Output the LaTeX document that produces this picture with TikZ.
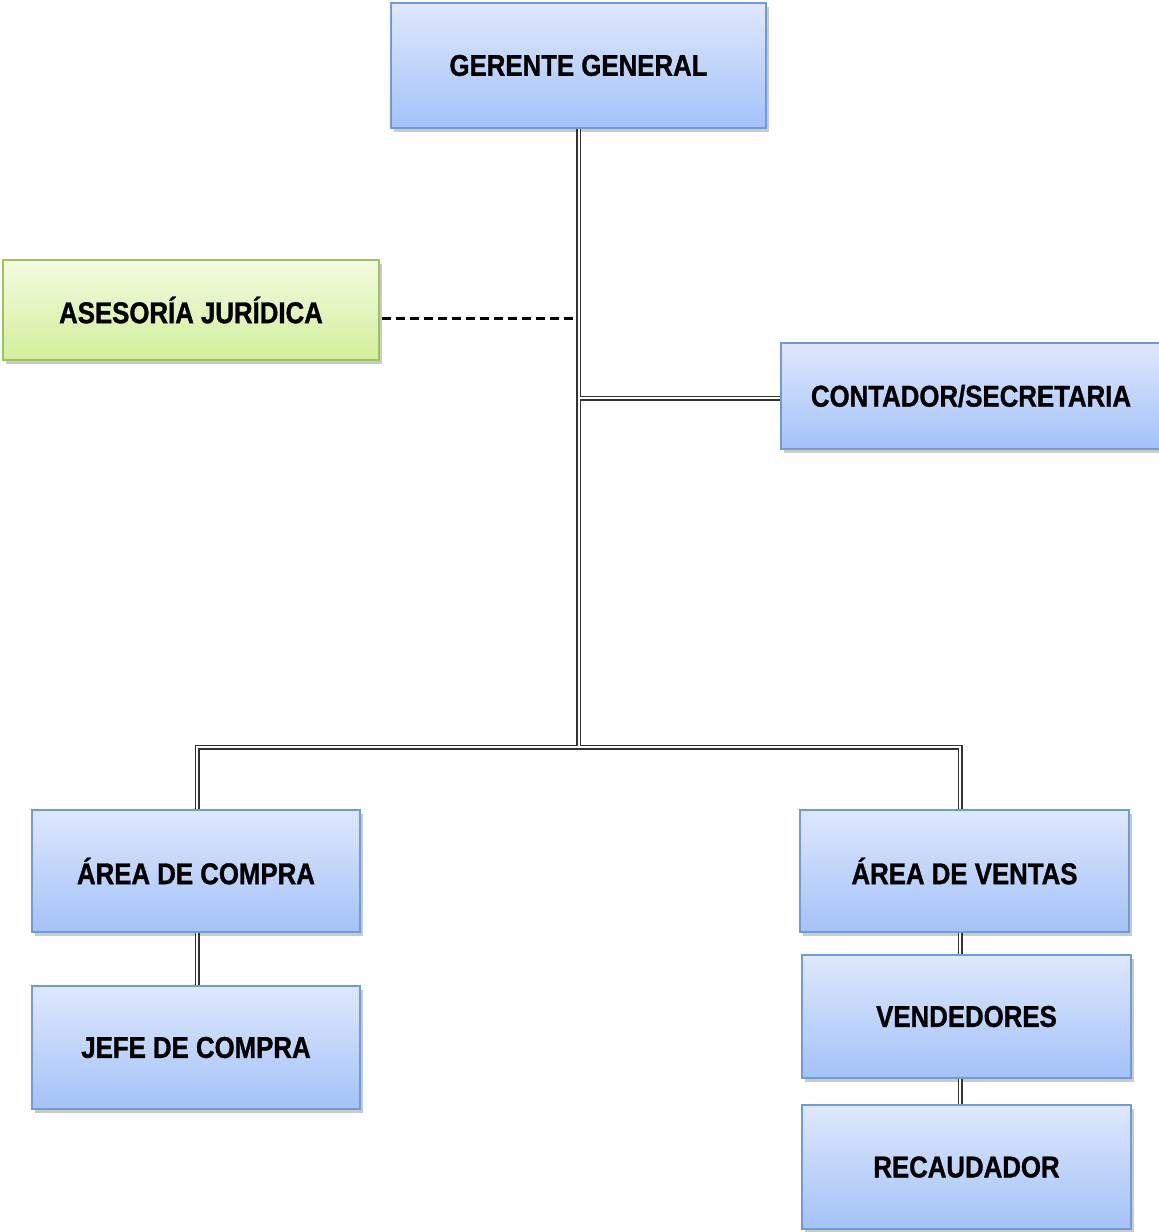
\documentclass[tikz,border=0pt]{standalone}
\usepackage{fontspec}
\setmainfont{Liberation Sans}[FakeStretch=0.86, BoldFeatures={FakeBold=1.1}]
\usetikzlibrary{shadows}
\definecolor{bluetop}{HTML}{DEE8FD}
\definecolor{bluebot}{HTML}{A3C2F9}
\definecolor{blueedge}{HTML}{6F9BD6}
\definecolor{greentop}{HTML}{F2FBE0}
\definecolor{greenbot}{HTML}{D2EF9C}
\definecolor{greenedge}{HTML}{9DC35A}
\tikzset{
  orgbox/.style={draw=blueedge, line width=1.2pt, top color=bluetop, bottom color=bluebot,
    anchor=north west, inner sep=0pt, outer sep=0pt,
    font=\fontsize{30}{32}\selectfont\bfseries,
    drop shadow={shadow xshift=3pt, shadow yshift=-4pt, opacity=0.35, fill=black!60}},
  greenbox/.style={orgbox, draw=greenedge, top color=greentop, bottom color=greenbot},
  outerl/.style={draw=black!80, line width=5pt, line cap=butt},
  innerl/.style={draw=white, line width=2pt, line cap=butt},
  dashl/.style={draw=black, line width=3pt, dash pattern=on 9pt off 5pt}
}
\begin{document}
\begin{tikzpicture}[x=1pt,y=1pt]
\useasboundingbox (0,0) rectangle (1159,-1232);
% junction coordinates
\coordinate (j1) at (578.5,-747);
\coordinate (j2) at (578.5,-318);
\coordinate (j3) at (578.5,-398);
% nodes
\node[orgbox, minimum width=375pt, minimum height=125pt] (gg) at (391,-3) {GERENTE GENERAL};
\node[greenbox, minimum width=376pt, minimum height=100pt] (asj) at (3,-260) {ASESOR\'IA JUR\'IDICA};
\node[orgbox, minimum width=380pt, minimum height=106pt] (cont) at (781,-343) {CONTADOR/SECRETARIA};
\node[orgbox, minimum width=328pt, minimum height=122pt] (comp) at (32,-810) {\'AREA DE COMPRA};
\node[orgbox, minimum width=328pt, minimum height=123pt] (jefe) at (32,-986) {JEFE DE COMPRA};
\node[orgbox, minimum width=329pt, minimum height=122pt] (vent) at (800,-810) {\'AREA DE VENTAS};
\node[orgbox, minimum width=329pt, minimum height=123pt] (vend) at (802,-955) {VENDEDORES};
\node[orgbox, minimum width=329pt, minimum height=124pt] (reca) at (802,-1105) {RECAUDADOR};
% connectors
\foreach \sty in {outerl,innerl}{
  \draw[\sty] (gg.south) -- (j1);
  \draw[\sty] (j3) -- (cont.west |- j3);
  \draw[\sty] (comp.north -| 197,0) |- (j1) -| (vent.north -| 960,0);
  \draw[\sty] (comp.south -| 197,0) -- (jefe.north -| 197,0);
  \draw[\sty] (vent.south -| 960,0) -- (vend.north -| 960,0);
  \draw[\sty] (vend.south -| 960,0) -- (reca.north -| 960,0);
}
\draw[dashl] (asj.east |- j2) ++(3,0) -- ([xshift=-2.5pt]j2);
% redraw box edges on top of line ends
\foreach \n in {gg,cont,comp,jefe,vent,vend,reca}{
  \draw[blueedge, line width=1.2pt] (\n.north west) rectangle (\n.south east);
}
\end{tikzpicture}
\end{document}
